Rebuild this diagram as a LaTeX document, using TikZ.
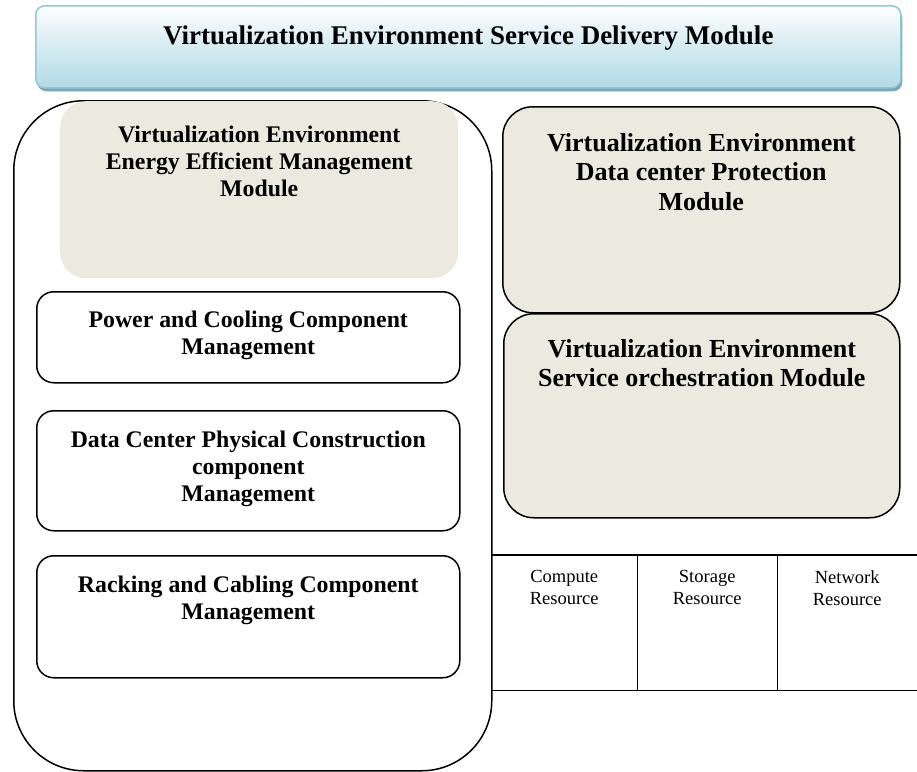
\documentclass[tikz,border=0pt]{standalone}
\usepackage{fontspec}
\setmainfont{Liberation Serif}
\usetikzlibrary{positioning, shadows}
\definecolor{vebeige}{RGB}{236,233,223}
\definecolor{veblue}{RGB}{178,219,230}
\definecolor{veblueedge}{RGB}{140,202,220}
\definecolor{veshadow}{RGB}{125,165,180}
\tikzset{
    ve_title/.style={
        rectangle,
        rounded corners=9pt,
        draw=veblueedge,
        line width=1.5pt,
        top color=white,
        bottom color=veblue,
        middle color=veblue!55,
        drop shadow={shadow xshift=1.5pt, shadow yshift=-3.5pt, fill=veshadow, opacity=1},
        anchor=north west,
        inner sep=0pt
    },
    ve_frame/.style={
        rectangle,
        rounded corners=70pt,
        draw=black,
        line width=1.5pt,
        anchor=north west,
        inner sep=0pt
    },
    ve_energy/.style={
        rectangle,
        rounded corners=26pt,
        fill=vebeige,
        anchor=north west,
        inner sep=0pt
    },
    ve_component/.style={
        rectangle,
        rounded corners=17pt,
        draw=black,
        fill=white,
        line width=1.5pt,
        anchor=north west,
        inner sep=0pt
    },
    ve_module/.style={
        rectangle,
        rounded corners=30pt,
        draw=black,
        fill=vebeige,
        line width=1.5pt,
        anchor=north west,
        inner sep=0pt
    },
    ve_resource/.style={
        rectangle,
        anchor=north west,
        inner sep=0pt
    },
    ve_line/.style={
        line width=1.5pt
    },
    ve_title_text/.style={
        font=\bfseries\fontsize{27}{30}\selectfont,
        align=center, inner sep=0pt
    },
    ve_big_text/.style={
        font=\bfseries\fontsize{26}{29.5}\selectfont,
        align=center, inner sep=0pt
    },
    ve_text/.style={
        font=\bfseries\fontsize{23.8}{27}\selectfont,
        align=center, inner sep=0pt
    },
    ve_res_text/.style={
        font=\fontsize{18.5}{22}\selectfont,
        align=center, inner sep=0pt
    }
}

\begin{document}
\begin{tikzpicture}[x=1pt, y=-1pt]
\useasboundingbox (0,0) rectangle (917,771);

% --- Service delivery (top) ---
\node[ve_title, minimum width=865pt, minimum height=82pt] (Delivery) at (35,5) {};
\node[ve_title_text, below=21pt of Delivery.north] (DeliveryText)
  {Virtualization Environment Service Delivery Module};

% --- Left frame and its components ---
\node[ve_frame, minimum width=478pt, minimum height=670pt] (Frame) at (13,100) {};
\node[ve_energy, minimum width=398pt, minimum height=177pt] (Energy) at (60,101) {};
\node[ve_text, below=25pt of Energy.north] (EnergyText)
  {Virtualization Environment\\ Energy Efficient Management\\ Module};
\node[ve_component, minimum width=423pt, minimum height=91pt] (Power) at (36,291) {};
\node[ve_text, below=20pt of Power.north] (PowerText)
  {Power and Cooling Component\\ Management};
\node[ve_component, minimum width=423pt, minimum height=120pt] (Physical) at (36,410) {};
\node[ve_text, below=21pt of Physical.north] (PhysicalText)
  {Data Center Physical Construction\\ component\\ Management};
\node[ve_component, minimum width=423pt, minimum height=122pt] (Racking) at (36,555) {};
\node[ve_text, below=21pt of Racking.north] (RackingText)
  {Racking and Cabling Component\\ Management};

% --- Right modules ---
\node[ve_module, minimum width=397pt, minimum height=206pt] (Protection) at (502,106) {};
\node[ve_big_text, below=27pt of Protection.north] (ProtectionText)
  {Virtualization Environment\\ Data center Protection\\ Module};
\node[ve_module, minimum width=396pt, minimum height=204pt] (Orchestration) at (503,313) {};
\node[ve_big_text, below=26pt of Orchestration.north] (OrchestrationText)
  {Virtualization Environment\\ Service orchestration Module};

% --- Resources ---
\node[ve_resource, minimum width=146pt, minimum height=135pt] (Compute) at (491,555) {};
\node[ve_resource, minimum width=140pt, minimum height=135pt] (Storage) at (637,555) {};
\node[ve_resource, minimum width=140pt, minimum height=135pt] (Network) at (777,555) {};
\node[ve_res_text, below=15pt of Compute.north] {Compute\\ Resource};
\node[ve_res_text, below=15pt of Storage.north] {Storage\\ Resource};
\node[ve_res_text, below=15pt of Network.north] {Network\\ Resource};

\draw[ve_line] (Compute.north west) -- (Network.north east);
\draw[ve_line] (Compute.south west) -- (Network.south east);
\draw[ve_line] (Compute.north east) -- (Compute.south east);
\draw[ve_line] (Storage.north east) -- (Storage.south east);

\end{tikzpicture}
\end{document}
